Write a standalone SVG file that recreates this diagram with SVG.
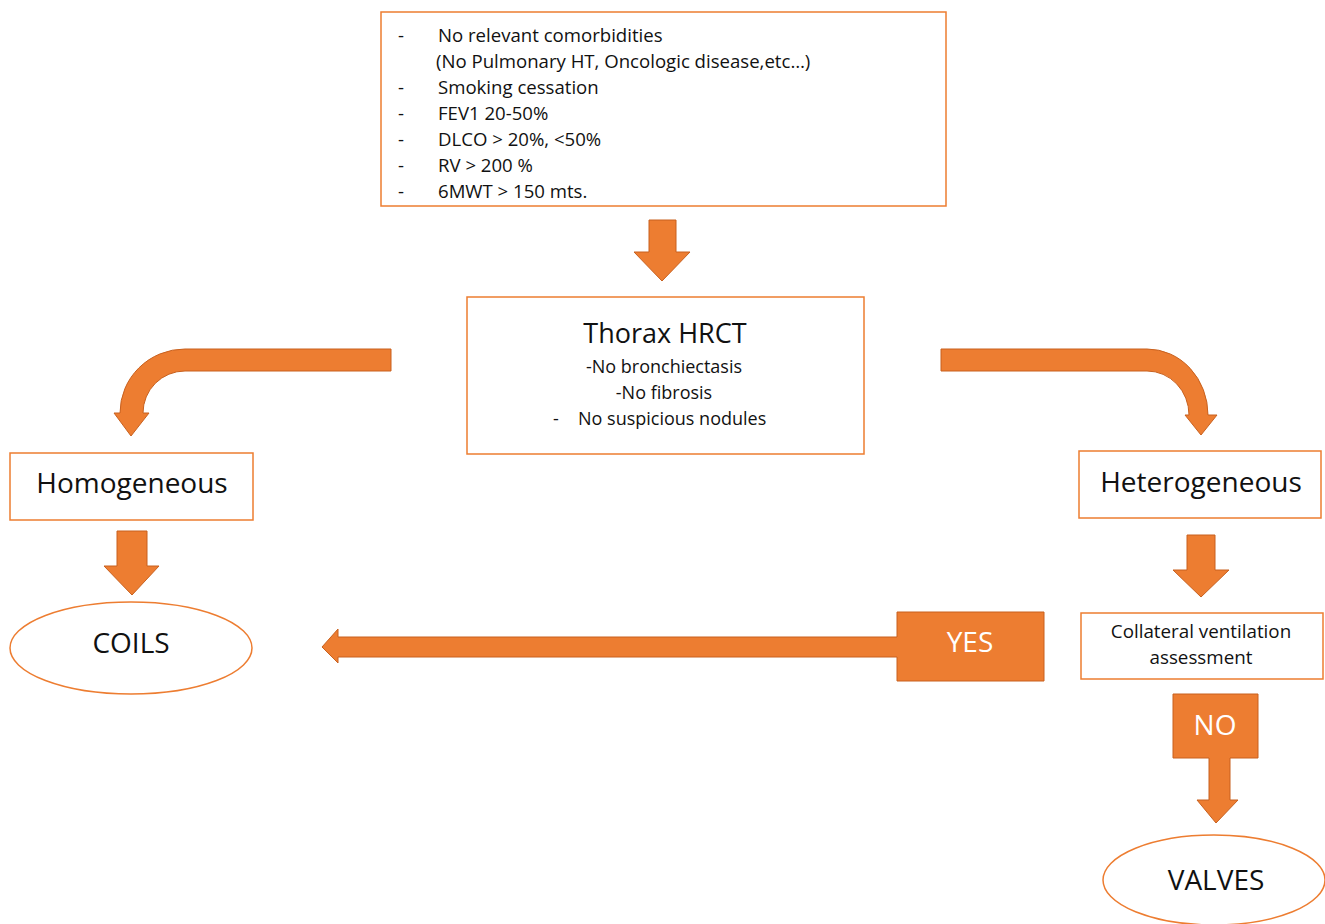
<svg xmlns="http://www.w3.org/2000/svg" width="1325" height="924" viewBox="0 0 1325 924">
<style>
.box{fill:#fff;stroke:#ED7D31;stroke-width:1.5}
.arr{fill:#ED7D31;stroke:#C8611F;stroke-width:1}
.t{font-family:"Open Sans","Liberation Sans",sans-serif;fill:#111}
.s{font-size:18px}
.m{font-size:18.6px}
.l{font-size:28px}
.c{text-anchor:middle}
.w{fill:#fff}
</style>
<rect width="1325" height="924" fill="#fff"/>
<g id="criteria">
<rect class="box" x="381" y="12" width="565" height="194"/>
<g class="t m">
<text x="398" y="42">-</text><text x="438" y="42">No relevant comorbidities</text>
<text x="436" y="68">(No Pulmonary HT, Oncologic disease,etc…)</text>
<text x="398" y="94">-</text><text x="438" y="94">Smoking cessation</text>
<text x="398" y="120">-</text><text x="438" y="120">FEV1 20-50%</text>
<text x="398" y="146">-</text><text x="438" y="146">DLCO &gt; 20%, &lt;50%</text>
<text x="398" y="172">-</text><text x="438" y="172">RV &gt; 200 %</text>
<text x="398" y="198">-</text><text x="438" y="198">6MWT &gt; 150 mts.</text>
</g>
</g>
<g id="thorax">
<rect class="box" x="467" y="297" width="397" height="157"/>
<text class="t c" x="665" y="343" font-size="27">Thorax HRCT</text>
<text class="t s c" x="664" y="373">-No bronchiectasis</text>
<text class="t s c" x="664" y="399">-No fibrosis</text>
<text class="t s" x="553" y="425">-</text>
<text class="t s" x="578" y="425">No suspicious nodules</text>
</g>
<g id="homogeneous">
<rect class="box" x="10" y="453" width="243" height="67"/>
<text class="t l c" x="132" y="493">Homogeneous</text>
</g>
<g id="heterogeneous">
<rect class="box" x="1079" y="451" width="242" height="67"/>
<text class="t l c" x="1201" y="492">Heterogeneous</text>
</g>
<g id="coils">
<ellipse class="box" cx="131" cy="648" rx="121" ry="46"/>
<text class="t l c" x="131" y="653">COILS</text>
</g>
<g id="collateral">
<rect class="box" x="1081" y="613" width="242" height="66"/>
<text class="t c" x="1201" y="638" font-size="18.8">Collateral ventilation</text>
<text class="t c" x="1201" y="664" font-size="18.8">assessment</text>
</g>
<g id="valves">
<ellipse class="box" cx="1214" cy="880" rx="111" ry="45"/>
<text class="t l c" x="1216" y="890">VALVES</text>
</g>
<g id="connectors">
<path class="arr" d="M649,220 H676 V252 H690 L662,281 L634,252 H649 Z"/>
<path class="arr" d="M391,349 H185 A65,64 0 0 0 120,413 H114 L131,436 L149,413 H143 A42,42 0 0 1 185,371 H391 Z"/>
<path class="arr" d="M941,349 H1147 A61,66 0 0 1 1208,415 H1217 L1201,435 L1185,415 H1189 A42,44 0 0 0 1147,371 H941 Z"/>
<path class="arr" d="M117,531 H147 V566 H159 L132,595 L104,566 H117 Z"/>
<path class="arr" d="M1187,535 H1215 V570 H1229 L1201,597 L1173,570 H1187 Z"/>
<g id="yes">
<path class="arr" d="M897,612 H1044 V681 H897 V657 H338 V663 L322,647 L338,629 V637 H897 Z"/>
<text class="t l c w" x="970" y="652">YES</text>
</g>
<g id="no">
<path class="arr" d="M1173,694 H1258 V758 H1230 V800 H1238 L1216,823 L1197,800 H1209 V758 H1173 Z"/>
<text class="t l c w" x="1215" y="735">NO</text>
</g>
</g>
</svg>
